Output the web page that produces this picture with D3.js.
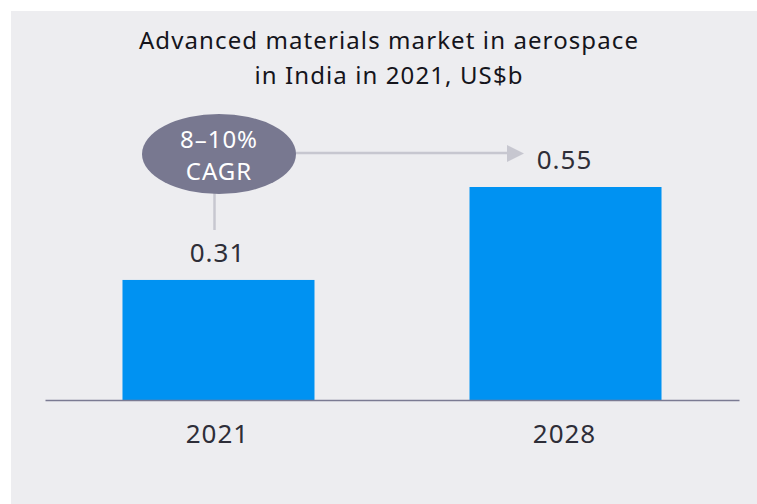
<!DOCTYPE html>
<html><head><meta charset="utf-8">
<script src="https://cdn.jsdelivr.net/npm/d3@7"></script>
<style>html,body{margin:0;padding:0;background:#fff;}svg{display:block;}</style>
</head><body>
<svg id="c" width="757" height="504"></svg>
<script>
const titleLines = ["Advanced materials market in aerospace", "in India in 2021, US$b"];
const categories = ["2021", "2028"];
const values = [0.31, 0.55];
const valueLabels = ["0.31", "0.55"];
const cagrLines = ["8–10%", "CAGR"];

const W = 757, H = 504;
const svg = d3.select("#c");
const font = "'Noto Sans', sans-serif";

svg.append("rect").attr("x", 11).attr("y", 11).attr("width", W - 11).attr("height", H - 11).attr("fill", "#ededf0");

const x = d3.scaleBand().domain(categories).range([45, 739]).paddingInner(0.4467).paddingOuter(0.2233);
const y = d3.scaleLinear().domain([0, 0.55]).range([400, 187]);

// title
svg.append("g").selectAll("text").data(titleLines).join("text")
  .attr("x", 389).attr("y", (d, i) => 49 + i * 35)
  .attr("text-anchor", "middle").attr("font-family", font).attr("font-size", 24)
  .attr("letter-spacing", 1.1)
  .attr("fill", "#15151c").text(d => d);

// bars
svg.append("g").selectAll("rect").data(values).join("rect")
  .attr("x", (d, i) => x(categories[i])).attr("width", x.bandwidth())
  .attr("y", d => y(d)).attr("height", d => y(0) - y(d)).attr("fill", "#0092f2");

// axis
const axis = d3.axisBottom(x).tickSize(0).tickPadding(0);
const ag = svg.append("g").attr("transform", `translate(0,${y(0)})`).call(axis);
ag.select(".domain").attr("stroke", "#7b7b93").attr("stroke-width", 1.5);
ag.selectAll("text").attr("font-family", font).attr("font-size", 26).attr("letter-spacing", 1)
  .attr("fill", "#2e2e38").attr("y", 43).attr("dy", null).attr("dx", -1);

// value labels
svg.append("g").selectAll("text").data(values).join("text")
  .attr("x", (d, i) => x(categories[i]) + x.bandwidth() / 2 - 1)
  .attr("y", d => y(d) - 18)
  .attr("text-anchor", "middle").attr("font-family", font).attr("font-size", 26)
  .attr("letter-spacing", 1)
  .attr("fill", "#2e2e38").text((d, i) => valueLabels[i]);

// CAGR annotation
const cx = 219, cy = 154;
const lineCol = "#c7c7d0";
svg.append("line").attr("x1", 214.5).attr("x2", 214.5).attr("y1", cy + 38).attr("y2", 230)
  .attr("stroke", lineCol).attr("stroke-width", 2.5);
const tipX = 524;
svg.append("line").attr("x1", cx + 76).attr("x2", tipX - 14).attr("y1", 153).attr("y2", 153)
  .attr("stroke", lineCol).attr("stroke-width", 2.5);
svg.append("path").attr("d", `M${tipX - 17},${145}L${tipX},${153.5}L${tipX - 17},${162}Z`).attr("fill", lineCol);
svg.append("ellipse").attr("cx", cx).attr("cy", cy).attr("rx", 77).attr("ry", 40).attr("fill", "#787890");
svg.append("g").selectAll("text").data(cagrLines).join("text")
  .attr("x", cx).attr("y", (d, i) => 148 + i * 32)
  .attr("text-anchor", "middle").attr("font-family", font).attr("font-size", 24)
  .attr("letter-spacing", 1)
  .attr("fill", "#ffffff").text(d => d);
</script>
</body></html>
